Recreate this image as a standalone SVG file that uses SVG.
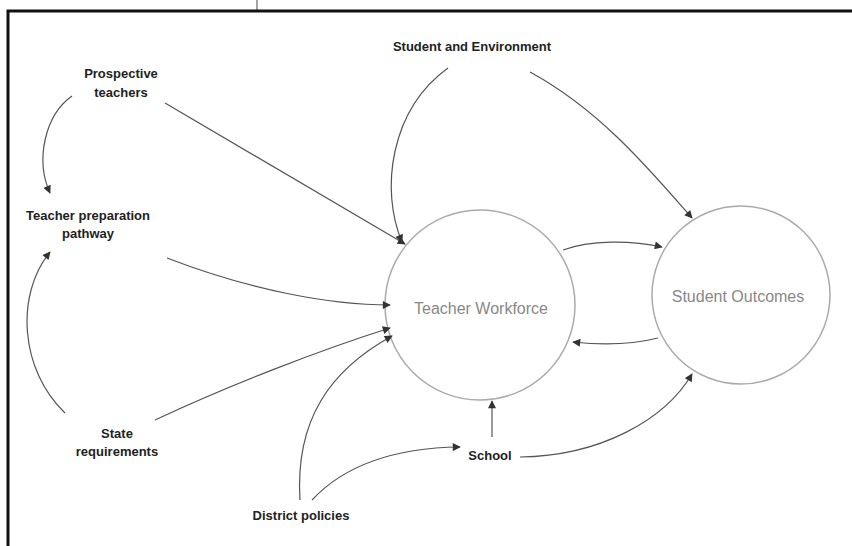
<svg xmlns="http://www.w3.org/2000/svg" width="852" height="546" viewBox="0 0 852 546">
<style>
.lbl{font-family:"Liberation Sans",Arial,sans-serif;font-size:13px;font-weight:bold;fill:#222;text-anchor:middle}
.clbl{font-family:"Liberation Sans",Arial,sans-serif;font-size:16px;fill:#888;text-anchor:middle}
.circ{fill:#fff;stroke:#aaa;stroke-width:1.5}
.con{fill:none;stroke:#555;stroke-width:1.2;marker-end:url(#ah)}
</style>
<defs>
<marker id="ah" viewBox="0 0 10 10" refX="9" refY="5" markerWidth="10" markerHeight="8" markerUnits="userSpaceOnUse" orient="auto">
<path d="M0,0 L10,5 L0,10 z" fill="#333"/>
</marker>
</defs>
<rect x="0" y="0" width="852" height="546" fill="#fff"/>
<line x1="257" y1="0" x2="257" y2="11" stroke="#666" stroke-width="1.2"/>
<path d="M8,560 L8,11 L870,11" fill="none" stroke="#111" stroke-width="3"/>

<g id="teacher-workforce"><circle class="circ" cx="480" cy="305" r="95"/><text class="clbl" x="481" y="314">Teacher Workforce</text></g>
<g id="student-outcomes"><circle class="circ" cx="741" cy="295" r="89"/><text class="clbl" x="738" y="302">Student Outcomes</text></g>
<g id="student-environment"><text class="lbl" x="472" y="51">Student and Environment</text></g>
<g id="prospective-teachers"><text class="lbl" x="121" y="78">Prospective</text><text class="lbl" x="121" y="97">teachers</text></g>
<g id="teacher-preparation"><text class="lbl" x="88" y="220">Teacher preparation</text><text class="lbl" x="88" y="238">pathway</text></g>
<g id="state-requirements"><text class="lbl" x="117" y="438">State</text><text class="lbl" x="117" y="456">requirements</text></g>
<g id="school"><text class="lbl" x="490" y="460">School</text></g>
<g id="district-policies"><text class="lbl" x="301" y="520">District policies</text></g>

<g id="connectors">
<path class="con" d="M165,103 L405,244"/>
<path class="con" d="M72,96 C45,115 35,160 50,193"/>
<path class="con" d="M65,413 C20,370 15,295 50,252"/>
<path class="con" d="M167,258 C250,290 330,305 390,305"/>
<path class="con" d="M155,420 C230,385 320,350 390,328"/>
<path class="con" d="M300,500 C295,420 330,370 392,336"/>
<path class="con" d="M312,500 C340,470 385,448 460,447"/>
<path class="con" d="M492,437 L492,401"/>
<path class="con" d="M520,457 C600,456 665,420 692,374"/>
<path class="con" d="M448,68 C390,110 380,190 402,242"/>
<path class="con" d="M530,72 C600,110 650,170 692,218"/>
<path class="con" d="M563,250 C590,240 630,240 662,247"/>
<path class="con" d="M658,338 C630,345 600,345 573,342"/>
</g>
</svg>
